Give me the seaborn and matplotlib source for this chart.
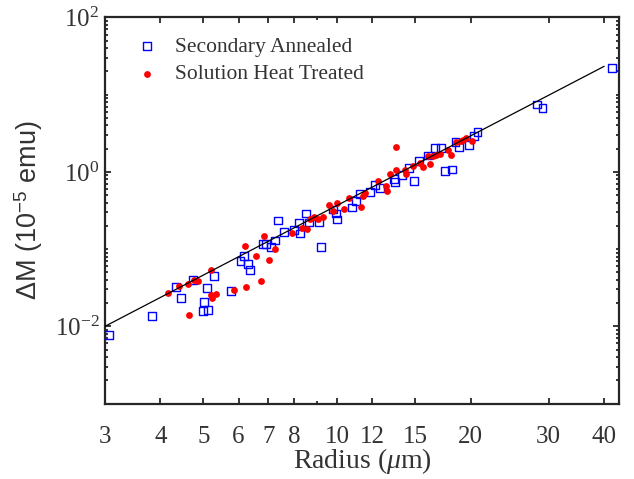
import matplotlib
matplotlib.use("Agg")
import matplotlib.pyplot as plt
import seaborn as sns
from matplotlib.ticker import FixedLocator, FixedFormatter, NullFormatter

# ---------------- data ----------------
sa_radius = [3.06, 3.83, 4.34, 4.45, 4.74, 5.10, 5.02, 4.99, 5.12, 5.29,
             5.77, 6.06, 6.18, 6.31, 6.36, 6.82, 6.93, 7.11, 7.24, 7.37,
             7.60, 8.01, 8.26, 8.22, 8.52, 8.66, 9.12, 9.19, 9.81, 9.96,
             10.01, 10.82, 11.02, 11.25, 11.89, 12.20, 12.49, 13.46, 13.53, 14.03,
             14.55, 14.88, 15.31, 16.04, 16.63, 17.19, 17.55, 18.20, 18.49, 18.87,
             19.81, 20.33, 20.73, 28.26, 29.05, 41.72]
sa_dm = [0.0077, 0.01354, 0.0321, 0.02346, 0.04005, 0.03158, 0.02053, 0.01594, 0.01642, 0.0451,
         0.0289, 0.0694, 0.0805, 0.0635, 0.0531, 0.1167, 0.1167, 0.1052, 0.1295, 0.2346,
         0.1667, 0.1769, 0.1594, 0.2159, 0.2889, 0.2211, 0.2244, 0.1052, 0.3253, 0.2889,
         0.2416, 0.3451, 0.4249, 0.5233, 0.5553, 0.6837, 0.6255, 0.805, 0.7364, 0.9066,
         1.116, 0.7586, 1.387, 1.628, 2.040, 2.040, 1.030, 1.074, 2.438, 2.083,
         2.211, 2.949, 3.253, 7.472, 6.776, 22.24]

sht_radius = [4.16, 4.41, 4.61, 4.76, 4.85, 5.20, 5.20, 5.23, 5.35, 4.63,
              5.86, 6.24, 6.74, 6.20, 6.58, 7.03, 6.86, 7.26, 7.91, 8.34,
              8.54, 8.69, 8.87, 9.04, 9.30, 9.61, 9.79, 10.00, 10.35, 10.62,
              11.33, 11.45, 11.58, 12.37, 12.90, 12.96, 13.19, 13.56, 13.57, 14.26,
              14.33, 14.84, 15.36, 15.63, 16.01, 16.18, 16.47, 16.75, 17.04, 17.76,
              18.11, 18.58, 19.04, 19.24, 19.50, 20.19]
sht_dm = [0.0272, 0.0332, 0.0348, 0.0397, 0.0385, 0.0539, 0.0254, 0.0230, 0.0262, 0.01416,
          0.0297, 0.0319, 0.0389, 0.1100, 0.0817, 0.0732, 0.1494, 0.0997, 0.1604, 0.185,
          0.1806, 0.2438, 0.2603, 0.2430, 0.2626, 0.3685, 0.3083, 0.3911, 0.3331, 0.4619,
          0.3534, 0.4858, 0.5358, 0.7586, 0.6538, 0.5586, 0.9339, 1.061, 2.102, 1.074,
          0.9339, 1.184, 1.307, 1.160, 1.594, 1.283, 1.628, 1.657, 1.727, 1.905,
          1.642, 2.416, 2.512, 2.619, 2.721, 2.512]

fit_radius = [3.0, 40.0]
fit_dm = [0.0100, 23.3]

x_ticks = [3, 4, 5, 6, 7, 8, 10, 12, 15, 20, 30, 40]
x_ticklabels = ["3", "4", "5", "6", "7", "8", "10", "12", "15", "20", "30", "40"]
y_ticks = [1e-2, 1e0, 1e2]
y_ticklabels = [r"$\mathdefault{10^{-2}}$", r"$\mathdefault{10^{0}}$", r"$\mathdefault{10^{2}}$"]

# ---------------- style ----------------
sns.set_style("ticks")
plt.rcParams["font.family"] = ["Liberation Serif", "DejaVu Serif"]
plt.rcParams["mathtext.fontset"] = "custom"
plt.rcParams["mathtext.rm"] = "Liberation Serif"
plt.rcParams["mathtext.it"] = "Liberation Serif:italic"
plt.rcParams["mathtext.bf"] = "Liberation Serif:bold"
plt.rcParams["mathtext.sf"] = "Liberation Sans"

INK = "#262626"
TXT = "#333333"

fig = plt.figure(figsize=(6.34, 4.79), dpi=100)
ax = fig.add_axes([0.1656, 0.1576, 0.8107, 0.8059])
ax.set_xscale("log")
ax.set_yscale("log")

sns.scatterplot(x=sa_radius, y=sa_dm, marker="s", s=32, color="#0000FF",
                linewidth=1.0, label="Secondary Annealed", ax=ax, zorder=2)
coll_sa = ax.collections[-1]
coll_sa.set_facecolor("none")
coll_sa.set_edgecolor("#0000FF")

sns.scatterplot(x=sht_radius, y=sht_dm, marker="o", s=24, color="#FF0000",
                linewidth=0, label="Solution Heat Treated", ax=ax, zorder=2)
coll_sht = ax.collections[-1]

sns.lineplot(x=fit_radius, y=fit_dm, color="black", linewidth=0.9, ax=ax, zorder=3)

ax.set_xlim(3, 43.2)
ax.set_ylim(1e-3, 1e2)

ax.xaxis.set_major_locator(FixedLocator(x_ticks))
ax.xaxis.set_major_formatter(FixedFormatter(x_ticklabels))
ax.xaxis.set_minor_locator(FixedLocator([9]))
ax.xaxis.set_minor_formatter(NullFormatter())

y_minor = []
for d in range(-3, 2):
    for k in range(1, 10):
        v = k * 10.0 ** d
        if v not in y_ticks:
            y_minor.append(v)
ax.yaxis.set_major_locator(FixedLocator(y_ticks))
ax.yaxis.set_major_formatter(FixedFormatter(y_ticklabels))
ax.yaxis.set_minor_locator(FixedLocator(y_minor))
ax.yaxis.set_minor_formatter(NullFormatter())

ax.tick_params(which="both", direction="in", top=True, right=True,
               color=INK, labelcolor=TXT, width=1.3)
ax.tick_params(which="major", length=4.5)
ax.tick_params(which="minor", length=2.4)
ax.tick_params(axis="x", which="major", pad=16, labelsize=18)
ax.tick_params(axis="y", which="major", pad=4, labelsize=18)

for sp in ax.spines.values():
    sp.set_visible(True)
    sp.set_linewidth(1.6)
    sp.set_color(INK)

ax.set_xlabel(r"Radius ($\mu$m)", fontsize=20, color=TXT, labelpad=-1)
ax.set_ylabel(r"ΔM (10$^{\mathdefault{-5}}$ emu)", fontsize=19.5, color=TXT,
              family=["Liberation Sans", "DejaVu Sans"], labelpad=7)

leg = ax.legend(handles=[coll_sa, coll_sht],
                labels=["Secondary Annealed", "Solution Heat Treated"],
                loc="upper left", bbox_to_anchor=(0.044, 0.972), frameon=False,
                fontsize=15.5, handlelength=1.0, handletextpad=0.8,
                labelspacing=0.34, borderpad=0.4, borderaxespad=0)
for t in leg.get_texts():
    t.set_color(TXT)

fig.savefig("out.png", dpi=100)
